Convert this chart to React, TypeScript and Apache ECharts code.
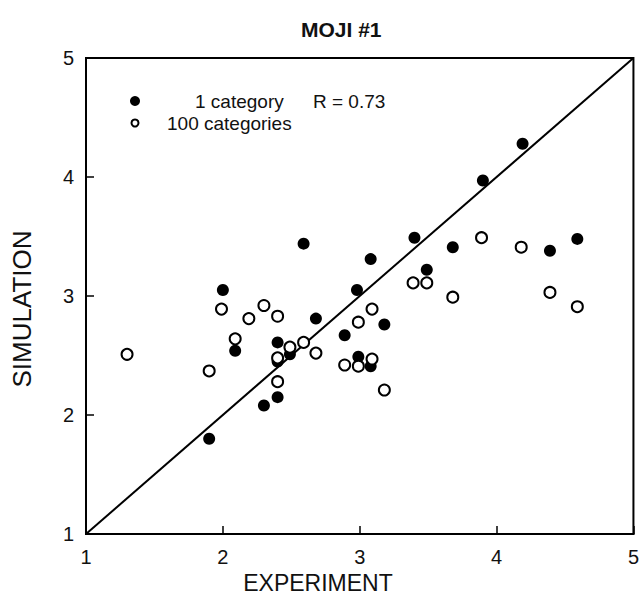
import React, { useEffect, useRef } from "react";
import * as echarts from "echarts";

// Experiment vs. simulation values (x = experiment, y = simulation)
const oneCategory: [number, number][] = [
  [2.59, 3.44], [2.0, 3.05], [2.98, 3.05], [2.68, 2.81], [2.89, 2.67],
  [2.4, 2.61], [2.09, 2.54], [2.49, 2.51], [2.4, 2.45], [2.99, 2.49],
  [2.4, 2.15], [2.3, 2.08], [1.9, 1.8], [3.4, 3.49], [3.08, 3.31],
  [3.68, 3.41], [3.49, 3.22], [4.39, 3.38], [4.59, 3.48], [3.18, 2.76],
  [3.08, 2.41], [4.19, 4.28], [3.9, 3.97],
];

const hundredCategories: [number, number][] = [
  [1.3, 2.51], [1.99, 2.89], [2.3, 2.92], [2.19, 2.81], [2.4, 2.83],
  [2.09, 2.64], [1.9, 2.37], [2.4, 2.48], [2.49, 2.57], [2.59, 2.61],
  [2.68, 2.52], [2.4, 2.28], [2.89, 2.42], [2.99, 2.78], [2.99, 2.41],
  [3.09, 2.47], [3.18, 2.21], [3.09, 2.89], [3.39, 3.11], [3.49, 3.11],
  [3.68, 2.99], [3.89, 3.49], [4.18, 3.41], [4.39, 3.03], [4.59, 2.91],
];

// Identity line y = x
const identityLine: [number, number][] = [[1, 1], [5, 5]];

const axisMin = 1;
const axisMax = 5;
const axisStep = 1;

const titleText = "MOJI #1";
const xName = "EXPERIMENT";
const yName = "SIMULATION";
const legendFilled = "1 category";
const legendOpen = "100 categories";
const rText = "R = 0.73";

const FONT = "'Liberation Sans', Arial, Helvetica, sans-serif";
const INK = "#111";

export default function App() {
  const ref = useRef<HTMLDivElement>(null);

  useEffect(() => {
    if (!ref.current) return;
    const chart = echarts.init(ref.current, null, { renderer: "svg" });

    const axisCommon = {
      type: "value" as const,
      min: axisMin,
      max: axisMax,
      interval: axisStep,
      axisLine: { show: true, onZero: false, lineStyle: { color: "#000", width: 2 } },
      axisTick: { show: true, inside: true, length: 8, lineStyle: { color: "#000", width: 1.5 } },
      splitLine: { show: false },
    };

    chart.setOption({
      animation: false,
      backgroundColor: "#fff",
      title: {
        text: titleText,
        left: 296,
        top: 14,
        textStyle: { color: INK, fontFamily: FONT, fontSize: 21, fontWeight: "bold" },
      },
      grid: {
        left: 86,
        right: 5,
        top: 58,
        bottom: 67,
        show: true,
        borderColor: "#000",
        borderWidth: 2,
        backgroundColor: "transparent",
      },
      xAxis: {
        ...axisCommon,
        axisLabel: { color: INK, fontFamily: FONT, fontSize: 20, margin: 13 },
      },
      yAxis: {
        ...axisCommon,
        axisLabel: { color: INK, fontFamily: FONT, fontSize: 20, margin: 12 },
      },
      graphic: [
        // axis titles
        {
          type: "text", x: 318, y: 583,
          style: { text: xName, fill: INK, font: `23px ${FONT}`, align: "center", verticalAlign: "middle" },
        },
        {
          type: "text", x: 22, y: 309, rotation: Math.PI / 2,
          style: { text: yName, fill: INK, font: `26px ${FONT}`, align: "center", verticalAlign: "middle" },
        },
        // legend
        { type: "circle", shape: { cx: 135, cy: 101, r: 5 }, style: { fill: "#000" } },
        { type: "circle", shape: { cx: 135, cy: 123, r: 3.5 }, style: { fill: "#fff", stroke: "#000", lineWidth: 2 } },
        {
          type: "text", x: 195, y: 101,
          style: { text: legendFilled, fill: INK, font: `19px ${FONT}`, verticalAlign: "middle" },
        },
        {
          type: "text", x: 313, y: 101,
          style: { text: rText, fill: INK, font: `19px ${FONT}`, verticalAlign: "middle" },
        },
        {
          type: "text", x: 167, y: 123,
          style: { text: legendOpen, fill: INK, font: `19px ${FONT}`, verticalAlign: "middle" },
        },
      ],
      series: [
        {
          type: "line",
          data: identityLine,
          symbol: "none",
          lineStyle: { color: "#000", width: 2 },
          silent: true,
          z: 1,
        },
        {
          type: "scatter",
          name: legendFilled,
          data: oneCategory,
          symbol: "circle",
          symbolSize: 12,
          itemStyle: { color: "#000", opacity: 1 },
          z: 2,
        },
        {
          type: "scatter",
          name: legendOpen,
          data: hundredCategories,
          symbol: "circle",
          symbolSize: 11,
          itemStyle: { color: "#fff", borderColor: "#000", borderWidth: 2, opacity: 1 },
          z: 3,
        },
      ],
    });

    return () => chart.dispose();
  }, []);

  return (
    <div
      ref={ref}
      style={{ position: "fixed", left: 0, top: 0, width: 642, height: 601, background: "#fff" }}
    />
  );
}
